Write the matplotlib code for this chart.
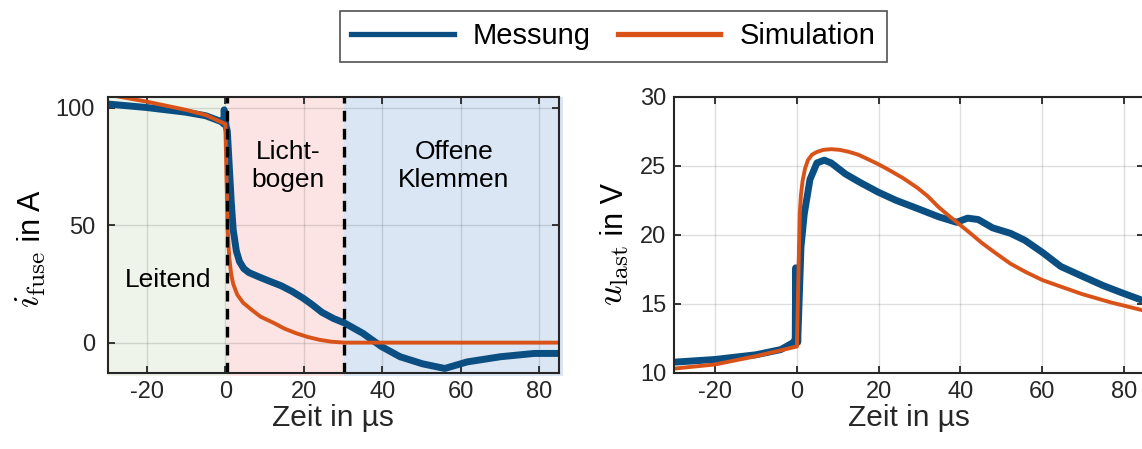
import numpy as np
import matplotlib.pyplot as plt
from matplotlib.lines import Line2D
from matplotlib.patches import Rectangle

plt.rcParams['font.family'] = ['Liberation Sans', 'DejaVu Sans']
plt.rcParams['mathtext.fontset'] = 'cm'
plt.rcParams['axes.unicode_minus'] = False

# Sicherungsstrom i_fuse (Messung)
t_i_mess = [-30, -20, -10, -5, -1, -0.4, -0.3, 0.2, 0.5, 1.0, 1.5, 2.0, 2.8, 3.6, 4.7, 6.0,
            8.5, 11.0, 14.2, 17.0, 19.9, 22.0, 24.6, 27.5, 30.3, 35.0, 39.8, 44.5, 50.2,
            55.9, 61.6, 70.1, 78.7, 85]
i_mess = [101.5, 100, 98, 96.5, 94, 93, 99, 92, 90, 75, 60, 48, 39, 34.5, 31.5, 29.8,
          28.0, 26.3, 24.2, 21.8, 18.8, 16.3, 12.9, 10.3, 8.4, 4.0, -1.7, -6.0, -9.0,
          -11.0, -8.2, -6.0, -4.6, -4.6]

# Sicherungsstrom i_fuse (Simulation)
t_i_sim = [-30, -20, -10, -5, 0, 0.3, 0.6, 1.0, 1.5, 2.0, 3.0, 4.5, 6.6, 9.0, 12.3, 15.0,
           18.0, 21.0, 24.0, 27.0, 30.3, 85]
i_sim = [105.5, 102.5, 99, 96.8, 93, 70, 48, 36, 29, 25, 20.5, 17, 14.1, 11, 8.4, 6,
         4, 2.4, 1.2, 0.4, 0, 0]

# Lastspannung u_last (Messung)
t_u_mess = [-29.7, -20, -10, -3.9, -0.8, -0.4, -0.3, 0.2, 1.0, 1.8, 3.2, 4.9, 6.7, 8.4, 11.9,
            15.4, 19.8, 24.2, 29.5, 34.7, 39.1, 41.8, 44.4, 47.9, 52.3, 55.8, 60.2, 64.6,
            69.8, 75.1, 79.5, 85]
u_mess = [10.77, 10.96, 11.3, 11.68, 12.2, 12.4, 17.6, 12.2, 19.1, 21.5, 24.0, 25.2, 25.4,
          25.2, 24.4, 23.8, 23.1, 22.5, 21.9, 21.3, 20.9, 21.2, 21.1, 20.5, 20.1, 19.6,
          18.7, 17.7, 17.0, 16.3, 15.8, 15.2]

# Lastspannung u_last (Simulation)
t_u_sim = [-30, -20, -10, 0, 0.35, 0.7, 1.0, 1.4, 2.0, 2.7, 3.7, 4.9, 6.5, 8.4, 10.5, 12.8,
           15.0, 17.2, 20.0, 22.5, 26.0, 29.5, 32.0, 34.7, 37.5, 40.0, 42.5, 45.3, 48.5,
           52.3, 56.0, 60.2, 65.0, 69.8, 76.8, 85]
u_sim = [10.3, 10.6, 11.2, 11.9, 16.7, 21.5, 22.9, 23.9, 24.8, 25.4, 25.8, 26.0, 26.15,
         26.2, 26.15, 26.0, 25.8, 25.5, 25.1, 24.7, 24.1, 23.4, 22.8, 22.0, 21.3, 20.7,
         20.1, 19.4, 18.7, 17.9, 17.3, 16.7, 16.2, 15.7, 15.1, 14.5]

# Bereiche: (Start, Ende, Farbe, Text, Textposition)
bereiche = [(-30, 0.3, '#eef4e9', 'Leitend', (-14.5, 26.7)),
            (0.3, 30.3, '#fde4e4', 'Licht-\nbogen', (15.9, 75)),
            (30.3, 86, '#dae6f4', 'Offene\nKlemmen', (58.2, 75))]
grenzen = [0.3, 30.3]

c_mess = '#0b4f82'
c_sim = '#d95319'
c_axis = '#262626'

fig = plt.figure(figsize=(11.42, 4.49), dpi=100)
ax1 = fig.add_axes([0.0942, 0.1699, 0.3953, 0.6147])
ax2 = fig.add_axes([0.5905, 0.1699, 0.4113, 0.6147])

ylim1 = (-12.8, 104.6)
for x0, x1, col, txt, pos in bereiche:
    ax1.add_patch(Rectangle((x0, ylim1[0] - 1.5), x1 - x0, ylim1[1] - ylim1[0] + 1.5,
                            facecolor=col, edgecolor='none', zorder=0, clip_on=False))
    ax1.text(pos[0], pos[1], txt, ha='center', va='center', fontsize=19,
             color='black', linespacing=1.2, zorder=5)

ax1.plot(t_i_mess, i_mess, color=c_mess, lw=5, solid_capstyle='round', zorder=3)
ax1.plot(t_i_sim, i_sim, color=c_sim, lw=2.8, zorder=4)
for g in grenzen:
    ax1.axvline(g, color='black', lw=2.4, ls=(0, (3.2, 2.2)), zorder=6)

ax2.plot(t_u_mess, u_mess, color=c_mess, lw=5, solid_capstyle='round', zorder=3)
ax2.plot(t_u_sim, u_sim, color=c_sim, lw=2.8, zorder=4)

ax1.set_xlim(-30, 85)
ax1.set_ylim(*ylim1)
ax1.set_yticks([0, 50, 100])

ax2.set_xlim(-30, 85)
ax2.set_ylim(10, 30)
ax2.set_yticks([10, 15, 20, 25, 30])

for ax in (ax1, ax2):
    ax.set_xticks([-20, 0, 20, 40, 60, 80])
    ax.set_xlabel('Zeit in µs', fontsize=21.5, color=c_axis, labelpad=1)
    ax.grid(True, color='#262626', alpha=0.15, lw=1.0)
    ax.set_axisbelow(False)
    ax.tick_params(direction='in', length=5, width=1.3, top=True, right=True,
                   labelsize=17, colors=c_axis, pad=6)
    for sp in ax.spines.values():
        sp.set_color(c_axis)
        sp.set_linewidth(1.5)
        sp.set_zorder(7)
    ax.set_facecolor('none')
ax1.tick_params(axis='y', pad=9)

# y-Beschriftung: Formelzeichen (Serifen, kursiv) + Einheit
fig.canvas.draw()
renderer = fig.canvas.get_renderer()
ylabels = [(r'$i_{\mathrm{fuse}}$', ' in A', 40, 308),
           (r'$u_{\mathrm{last}}$', ' in V', 623, 306)]
for sym, unit, xb, yb in ylabels:
    # Pixelkoordinaten (von oben gemessen) in Figure-Koordinaten
    xf, yf = xb / 1142, 1 - yb / 449
    t1 = fig.text(xf, yf, sym, rotation=90, rotation_mode='anchor',
                  ha='left', va='baseline', fontsize=26, color='black')
    bb = t1.get_window_extent(renderer)
    fig.text(xf, (bb.y1 + 1) / fig.bbox.height, unit, rotation=90,
             rotation_mode='anchor', ha='left', va='baseline', fontsize=22,
             color='black')

# gemeinsame Legende oben
handles = [Line2D([], [], color=c_mess, lw=3.8), Line2D([], [], color=c_sim, lw=3.8)]
leg = fig.legend(handles, ['Messung', 'Simulation'], loc='center', ncol=2,
                 bbox_to_anchor=(0.537, 0.919), fontsize=21, frameon=True,
                 fancybox=False, edgecolor=c_axis, handlelength=3.5,
                 handletextpad=0.65, columnspacing=0.95, borderpad=0.4,
                 borderaxespad=0)
leg.get_frame().set_linewidth(1.2)

fig.savefig('out.png', dpi=100)
